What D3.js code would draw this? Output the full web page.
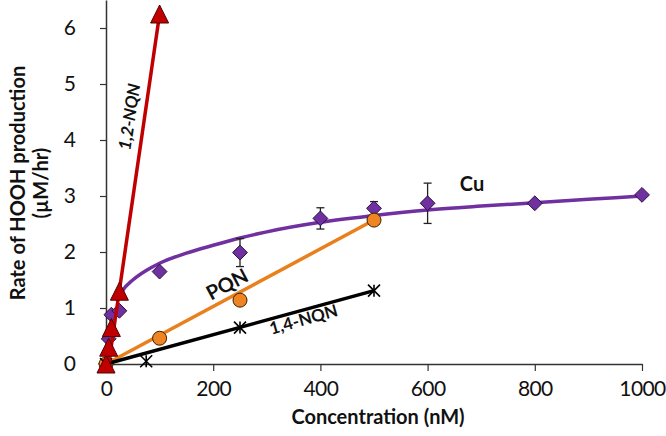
<!DOCTYPE html>
<html><head><meta charset="utf-8">
<script src="https://cdn.jsdelivr.net/npm/d3@7"></script>
<style>body{margin:0;background:#fff}svg{display:block}</style>
</head><body>
<svg id="c" width="666" height="436"></svg>
<script>
// ---- data ----
const xTicks = [0, 200, 400, 600, 800, 1000];
const yTicks = [0, 1, 2, 3, 4, 5, 6];
const cuConc = [0, 5, 10, 25, 100, 250, 400, 500, 600, 800, 1000];
const cuRate = [0, 0.45, 0.88, 0.95, 1.65, 1.99, 2.60, 2.78, 2.87, 2.87, 3.02];
const cuErr  = [0, 0, 0, 0, 0, 0.25, 0.19, 0.12, 0.36, 0, 0];
const cuFitConc = [20, 30, 50, 75, 100, 150, 200, 250, 300, 400, 500, 600, 700, 800, 900, 1000];
const cuFitRate = [1.12, 1.3, 1.5, 1.67, 1.8, 1.98, 2.12, 2.25, 2.36, 2.53, 2.65, 2.75, 2.82, 2.88, 2.94, 3.0];
const pqnConc = [0, 100, 250, 500];
const pqnRate = [0, 0.46, 1.14, 2.57];
const pqnFitConc = [0, 500];
const pqnFitRate = [0, 2.57];
const nq14Conc = [0, 75, 250, 500];
const nq14Rate = [0, 0.05, 0.65, 1.31];
const nq14FitConc = [0, 500];
const nq14FitRate = [0, 1.31];
const nq12Conc = [0, 5, 10, 25, 100];
const nq12Rate = [0, 0.3, 0.65, 1.3, 6.25];
const nq12FitConc = [5, 100];
const nq12FitRate = [0, 6.25];

const svg = d3.select('#c');
const x = d3.scaleLinear().domain([0, 1000]).range([106, 642]);
const y = d3.scaleLinear().domain([0, 6.5]).range([364, 0]);
const font = "Lato, 'Open Sans', sans-serif";
const zip = (a, b) => a.map((v, i) => [v, b[i]]);
const line = d3.line().x(d => x(d[0])).y(d => y(d[1]));

// axes: minor ticks
const xMinor = d3.range(0, 1001, 40).filter(v => v % 200 !== 0);
const yMinor = d3.range(0, 6.41, 0.2).map(v => +v.toFixed(1)).filter(v => Math.abs(v - Math.round(v)) > 1e-6);
const gx = svg.append('g').attr('transform', `translate(0,${y(0)})`);
gx.call(d3.axisBottom(x).tickValues(xMinor).tickSize(4).tickFormat(''));
gx.call(d3.axisBottom(x).tickValues(xTicks).tickSize(7).tickSizeOuter(0).tickPadding(10).tickFormat(d3.format('d')));
const gy = svg.append('g').attr('transform', `translate(${x(0)},0)`);
gy.call(d3.axisLeft(y).tickValues(yMinor).tickSize(4).tickFormat(''));
gy.call(d3.axisLeft(y).tickValues(yTicks).tickSize(6).tickSizeOuter(0).tickPadding(24).tickFormat(d3.format('d')));
svg.selectAll('.domain').attr('stroke', '#333').attr('stroke-width', 1.5);
svg.selectAll('.tick line').attr('stroke', '#333').attr('stroke-width', 1.2);
svg.selectAll('.tick text').attr('font-family', font).attr('font-size', 21).attr('fill', '#111');
gx.selectAll('.tick text').attr('letter-spacing', -0.6);

// axis titles
svg.append('text').attr('x', 378).attr('y', 424).attr('text-anchor', 'middle')
  .attr('font-family', font).attr('font-weight', 'bold').attr('font-size', 20).attr('fill', '#111')
  .text('Concentration (nM)');
const yt = svg.append('text').attr('transform', 'translate(0,183) rotate(-90)')
  .attr('text-anchor', 'middle').attr('font-family', font).attr('font-weight', 'bold')
  .attr('font-size', 20).attr('fill', '#111');
yt.append('tspan').attr('x', 0).attr('y', 25).text('Rate of HOOH production');
yt.append('tspan').attr('x', 0).attr('y', 48).text('(µM/hr)');

// Cu
svg.append('path').datum(zip(cuFitConc, cuFitRate)).attr('d', line.curve(d3.curveMonotoneX))
  .attr('fill', 'none').attr('stroke', '#7030A0').attr('stroke-width', 3.5);
line.curve(d3.curveLinear);
const cu = zip(cuConc, cuRate).map((d, i) => ({c: d[0], v: d[1], e: cuErr[i]}));
const eb = svg.append('g').attr('stroke', '#222').attr('stroke-width', 1.3);
cu.filter(d => d.e > 0).forEach(d => {
  eb.append('line').attr('x1', x(d.c)).attr('x2', x(d.c)).attr('y1', y(d.v - d.e)).attr('y2', y(d.v + d.e));
  [d.v - d.e, d.v + d.e].forEach(v => eb.append('line').attr('x1', x(d.c) - 4).attr('x2', x(d.c) + 4).attr('y1', y(v)).attr('y2', y(v)));
});
svg.append('g').selectAll('path').data(cu).join('path')
  .attr('d', d3.symbol(d3.symbolDiamond2, 140))
  .attr('transform', d => `translate(${x(d.c)},${y(d.v)})`)
  .attr('fill', '#7030A0').attr('stroke', '#2a1040').attr('stroke-width', 1);

// PQN
svg.append('path').datum(zip(pqnFitConc, pqnFitRate)).attr('d', line)
  .attr('fill', 'none').attr('stroke', '#E8801E').attr('stroke-width', 3.5);
svg.append('g').selectAll('circle').data(zip(pqnConc, pqnRate)).join('circle')
  .attr('cx', d => x(d[0])).attr('cy', d => y(d[1])).attr('r', 7)
  .attr('fill', '#EE8422').attr('stroke', '#3a2000').attr('stroke-width', 1);

// 1,4-NQN
svg.append('path').datum(zip(nq14FitConc, nq14FitRate)).attr('d', line)
  .attr('fill', 'none').attr('stroke', '#000').attr('stroke-width', 3.5);
const star = svg.append('g').attr('stroke', '#000').attr('stroke-width', 1.6);
zip(nq14Conc, nq14Rate).forEach(d => {
  const cx = x(d[0]), cy = y(d[1]), s = 6;
  star.append('line').attr('x1', cx).attr('x2', cx).attr('y1', cy - s).attr('y2', cy + s);
  star.append('line').attr('x1', cx - s).attr('x2', cx + s).attr('y1', cy - s).attr('y2', cy + s);
  star.append('line').attr('x1', cx - s).attr('x2', cx + s).attr('y1', cy + s).attr('y2', cy - s);
});

// 1,2-NQN
svg.append('path').datum(zip(nq12FitConc, nq12FitRate)).attr('d', line)
  .attr('fill', 'none').attr('stroke', '#C00000').attr('stroke-width', 3.5);
svg.append('g').selectAll('path').data(zip(nq12Conc, nq12Rate)).join('path')
  .attr('d', 'M0,-9L9,9L-9,9Z')
  .attr('transform', d => `translate(${x(d[0])},${y(d[1])})`)
  .attr('fill', '#C00000').attr('stroke', '#500000').attr('stroke-width', 1);

// series labels
const lab = (t, px, py, rot, size) => svg.append('text').attr('transform', `translate(${px},${py}) rotate(${rot})`)
  .attr('text-anchor', 'middle').attr('dominant-baseline', 'middle').attr('font-family', font)
  .attr('font-weight', 'bold').attr('font-size', size).attr('fill', '#111').text(t);
lab('Cu', 472, 186, 0, 20);
lab('PQN', 228, 286, -28, 20);
lab('1,4-NQN', 304, 321, -16, 17);
lab('1,2-NQN', 131, 117, -81.5, 17).attr('font-style', 'italic');
</script>
</body></html>
